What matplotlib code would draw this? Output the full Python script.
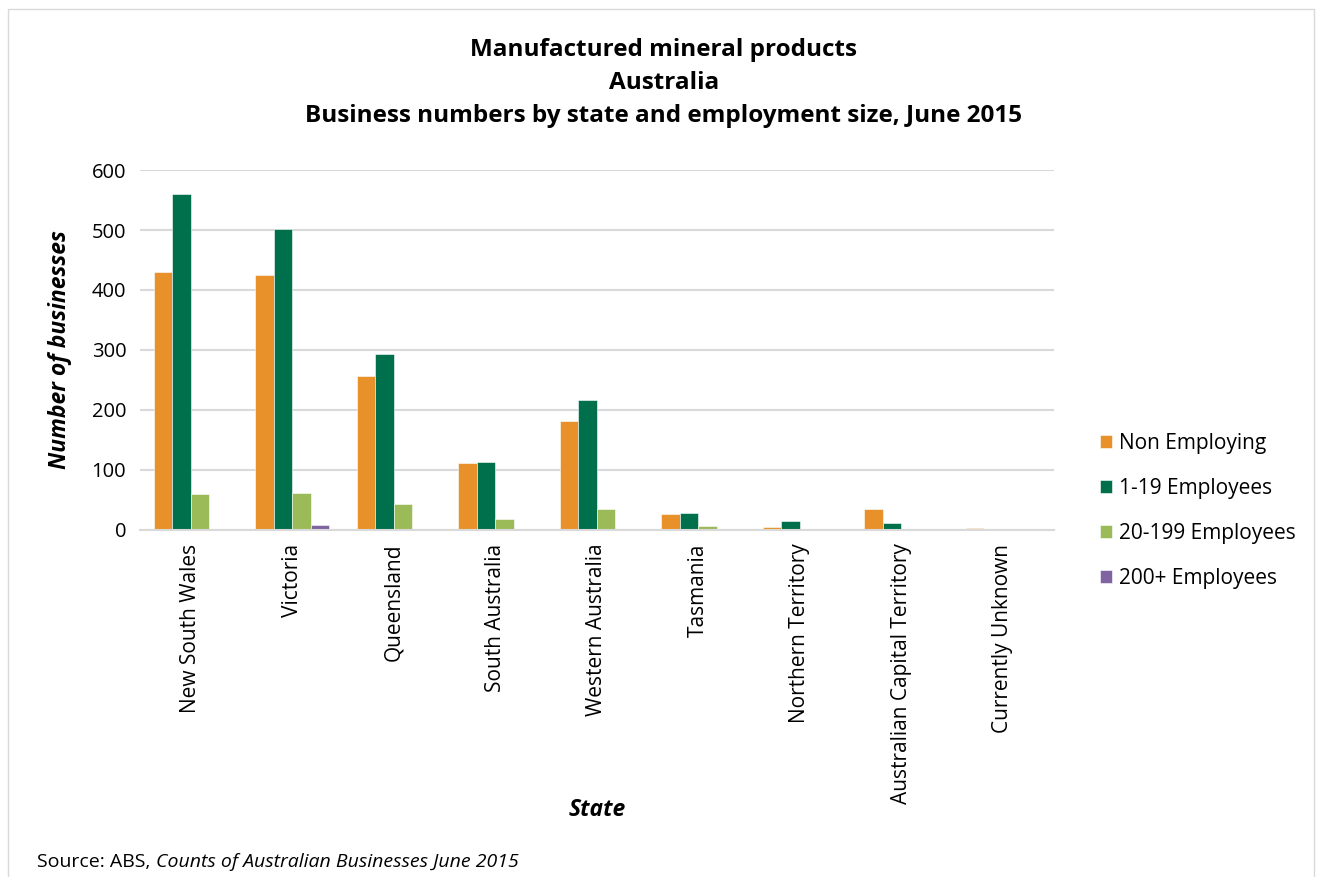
import matplotlib.pyplot as plt
import matplotlib.patches as mpatches
import numpy as np

plt.rcParams['font.family'] = ['Open Sans', 'DejaVu Sans']

states = ['New South Wales', 'Victoria', 'Queensland', 'South Australia',
          'Western Australia', 'Tasmania', 'Northern Territory',
          'Australian Capital Territory', 'Currently Unknown']
non_employing = [430, 425, 256, 112, 181, 27, 5, 35, 3]
emp_1_19 = [560, 502, 293, 113, 217, 28, 15, 12, 0]
emp_20_199 = [60, 61, 43, 18, 35, 7, 2, 0, 0]
emp_200_plus = [2, 8, 2, 0, 2, 0, 0, 0, 0]

series = [('Non Employing', non_employing, '#E8912A'),
          ('1-19 Employees', emp_1_19, '#006F4B'),
          ('20-199 Employees', emp_20_199, '#9BBB59'),
          ('200+ Employees', emp_200_plus, '#8064A2')]

fig = plt.figure(figsize=(13.22, 8.77), dpi=100)
ax = fig.add_axes([0.106, 0.396, 0.691, 0.41])

x = np.arange(len(states))
w = 0.182
for i, (name, vals, col) in enumerate(series):
    ax.bar(x + (i - 1.5) * w, vals, w, color=col, label=name,
           edgecolor='white', linewidth=0.4)

ax.set_xlim(-0.5, len(states) - 0.5)
ax.set_ylim(0, 600)
ax.set_yticks(range(0, 601, 100))
ax.yaxis.grid(True, color='#D9D9D9', linewidth=1.5)
ax.set_axisbelow(True)
for s in ['top', 'right', 'left']:
    ax.spines[s].set_visible(False)
ax.spines['bottom'].set_color('#D9D9D9')
ax.spines['bottom'].set_linewidth(1.5)
ax.tick_params(axis='y', length=0, labelsize=14.5, pad=10)
ax.tick_params(axis='x', length=0, labelsize=15, pad=10)
ax.set_xticks(x)
ax.set_xticklabels(states, rotation=90)

ax.set_ylabel('Number of businesses', fontsize=16.5, fontweight='bold',
              style='italic', labelpad=14)
ax.set_xlabel('State', fontsize=16.5, fontweight='bold', style='italic')
ax.xaxis.set_label_coords(0.5, -0.745)

fig.text(0.502, 0.957, 'Manufactured mineral products\nAustralia\n'
         'Business numbers by state and employment size, June 2015',
         ha='center', va='top', fontsize=17.5, fontweight='bold',
         linespacing=1.5)

ax.legend(loc='center left', bbox_to_anchor=(1.03, 0.053), frameon=False,
          fontsize=15, handlelength=0.6, handleheight=0.6,
          labelspacing=1.15, handletextpad=0.3)

src = fig.text(0.028, 0.007, 'Source: ABS, ', fontsize=14, ha='left',
               va='bottom')
fig.canvas.draw()
bb = src.get_window_extent().transformed(fig.transFigure.inverted())
fig.text(bb.x1, 0.007, 'Counts of Australian Businesses June 2015',
         fontsize=14, style='italic', ha='left', va='bottom')

border = mpatches.Rectangle((0.006, -0.01), 0.988, 1.0, transform=fig.transFigure,
                            fill=False, edgecolor='#D9D9D9', linewidth=1)
fig.patches.append(border)

fig.savefig('out.png', dpi=100)
